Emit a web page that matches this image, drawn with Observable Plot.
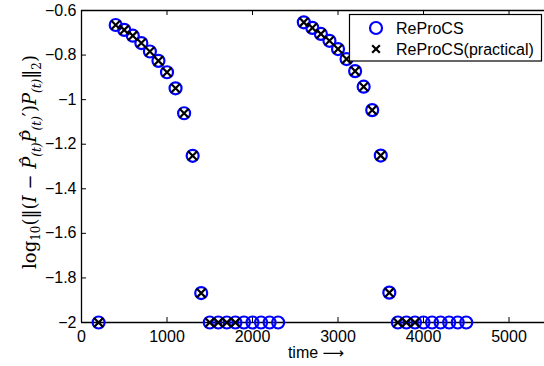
<!DOCTYPE html>
<html>
<head>
<meta charset="utf-8">
<script src="https://cdn.jsdelivr.net/npm/d3@7"></script>
<script src="https://cdn.jsdelivr.net/npm/@observablehq/plot@0.6"></script>
<style>
  html, body { margin: 0; padding: 0; background: #fff; }
  #chart { position: relative; width: 544px; height: 366px; }
</style>
</head>
<body>
<div id="chart"></div>
<script>
// Data
const time = [200, 400, 500, 600, 700, 800, 900, 1000, 1100, 1200, 1300, 1400,
  1500, 1600, 1700, 1800, 1900, 2000, 2100, 2200, 2300,
  2600, 2700, 2800, 2900, 3000, 3100, 3200, 3300, 3400, 3500, 3600,
  3700, 3800, 3900, 4000, 4100, 4200, 4300, 4400, 4500];
const reprocs = [-2, -0.665, -0.687, -0.713, -0.746, -0.784, -0.826, -0.877, -0.949, -1.061, -1.252, -1.868,
  -2, -2, -2, -2, -2, -2, -2, -2, -2,
  -0.653, -0.678, -0.705, -0.736, -0.773, -0.818, -0.872, -0.942, -1.047, -1.251, -1.866,
  -2, -2, -2, -2, -2, -2, -2, -2, -2];
const practicalTime = [200, 400, 500, 600, 700, 800, 900, 1000, 1100, 1200, 1300, 1400,
  1500, 1600, 1700, 1800,
  2600, 2700, 2800, 2900, 3000, 3100, 3200, 3300, 3400, 3500, 3600,
  3700, 3800, 3900];
const practical = [-2, -0.665, -0.687, -0.713, -0.746, -0.784, -0.826, -0.877, -0.949, -1.061, -1.252, -1.868,
  -2, -2, -2, -2,
  -0.653, -0.678, -0.705, -0.736, -0.773, -0.818, -0.872, -0.942, -1.047, -1.251, -1.866,
  -2, -2, -2];
const xTicks = [0, 1000, 2000, 3000, 4000, 5000];
const yTicks = [-2, -1.8, -1.6, -1.4, -1.2, -1, -0.8, -0.6];
const seriesNames = ["ReProCS", "ReProCS(practical)"];
const xLabelWord = "time";
const xLabelArrow = "⟶";

const dataA = time.map((t, i) => ({t, v: reprocs[i]}));
const dataB = practicalTime.map((t, i) => ({t, v: practical[i]}));
const fmtY = d => String(d).replace("-", "−");

const font = "'Liberation Sans', Arial, Helvetica, sans-serif";
const W = 544, H = 366, mL = 81, mR = 0, mT = 10, mB = 44;
const innerH = H - mT - mB, innerW = W - mL - mR;
const tickLen = 5;

const plot = Plot.plot({
  width: W,
  height: H,
  marginLeft: mL,
  marginRight: mR,
  marginTop: mT,
  marginBottom: mB,
  style: {fontFamily: font, fontSize: "16px", color: "#000", background: "#fff"},
  x: {domain: [0, 5415]},
  y: {domain: [-2, -0.6]},
  marks: [
    Plot.axisX({anchor: "bottom", ticks: xTicks, tickSize: 0, tickPadding: 8, tickFormat: d => String(d), label: null, fontSize: 16}),
    Plot.axisY({anchor: "left", ticks: yTicks, tickSize: 0, tickPadding: 5, tickFormat: fmtY, label: null, fontSize: 16}),
    // inward ticks
    Plot.tickX(xTicks, {x: d => d, insetTop: innerH - tickLen, stroke: "#000"}),
    Plot.tickX(xTicks, {x: d => d, insetBottom: innerH - tickLen, stroke: "#000"}),
    Plot.tickY(yTicks, {y: d => d, insetRight: innerW - tickLen, stroke: "#000"}),
    // axes box (right side lies beyond the view)
    Plot.ruleY([-2, -0.6], {stroke: "#000", strokeWidth: 1.3}),
    Plot.ruleX([0], {stroke: "#000", strokeWidth: 1.3}),
    Plot.dot(dataA, {x: "t", y: "v", r: 6, stroke: "#0000ff", strokeWidth: 2.2, fill: "none"}),
    Plot.dot(dataB, {x: "t", y: "v", r: 4.2, symbol: "times", stroke: "#000", strokeWidth: 2.2})
  ]
});
document.getElementById("chart").appendChild(plot);

const svg = d3.select(plot);

// x label
const xl = svg.append("text")
  .attr("x", 316).attr("y", 358)
  .attr("text-anchor", "middle")
  .style("font-family", font).style("font-size", "16px");
xl.append("tspan").text(xLabelWord + " ");
xl.append("tspan").style("font-family", "'DejaVu Sans', sans-serif").style("font-size", "15px").text(xLabelArrow);

// y label (math)
const yl = svg.append("text")
  .attr("transform", "translate(36,162) rotate(-90)")
  .attr("text-anchor", "middle")
  .style("font-family", "'DejaVu Serif', 'Liberation Serif', serif")
  .style("font-size", "18px");
const parts = [
  ["log", 0, false, false], ["10", 4, true, false], ["(‖(", -4, false, false],
  ["I", 0, false, true], [" − ", 0, false, false],
  ["P̂", 0, false, true], ["(t)", 5, true, true],
  ["P̂", -5, false, true], ["(t)", 5, true, true], ["′", -5, false, false],
  [")", 0, false, false], ["P", 0, false, true], ["(t)", 5, true, true],
  ["‖", -5, false, false], ["2", 5, true, false], [")", -5, false, false]
];
parts.forEach(([s, dy, small, ital]) => {
  yl.append("tspan").attr("dy", dy)
    .style("font-size", small ? "12px" : null)
    .style("font-style", ital ? "italic" : null)
    .text(s);
});

// legend
const lg = svg.append("g").attr("text-anchor", "start");
lg.append("rect").attr("x", 349.5).attr("y", 14.5).attr("width", 192).attr("height", 46.5)
  .attr("fill", "#fff").attr("stroke", "#000").attr("stroke-width", 1.2);
lg.append("circle").attr("cx", 376).attr("cy", 28).attr("r", 6)
  .attr("fill", "none").attr("stroke", "#0000ff").attr("stroke-width", 2.2);
lg.append("path").attr("d", d3.symbol(d3.symbolTimes, 40)()).attr("transform", "translate(376,49)")
  .attr("fill", "none").attr("stroke", "#000").attr("stroke-width", 2.2);
lg.append("text").attr("x", 396).attr("y", 33.5).attr("text-anchor", "start").style("font-family", font).style("font-size", "16px").text(seriesNames[0]);
lg.append("text").attr("x", 396).attr("y", 55).attr("text-anchor", "start").style("font-family", font).style("font-size", "16px").text(seriesNames[1]);
</script>
</body>
</html>
